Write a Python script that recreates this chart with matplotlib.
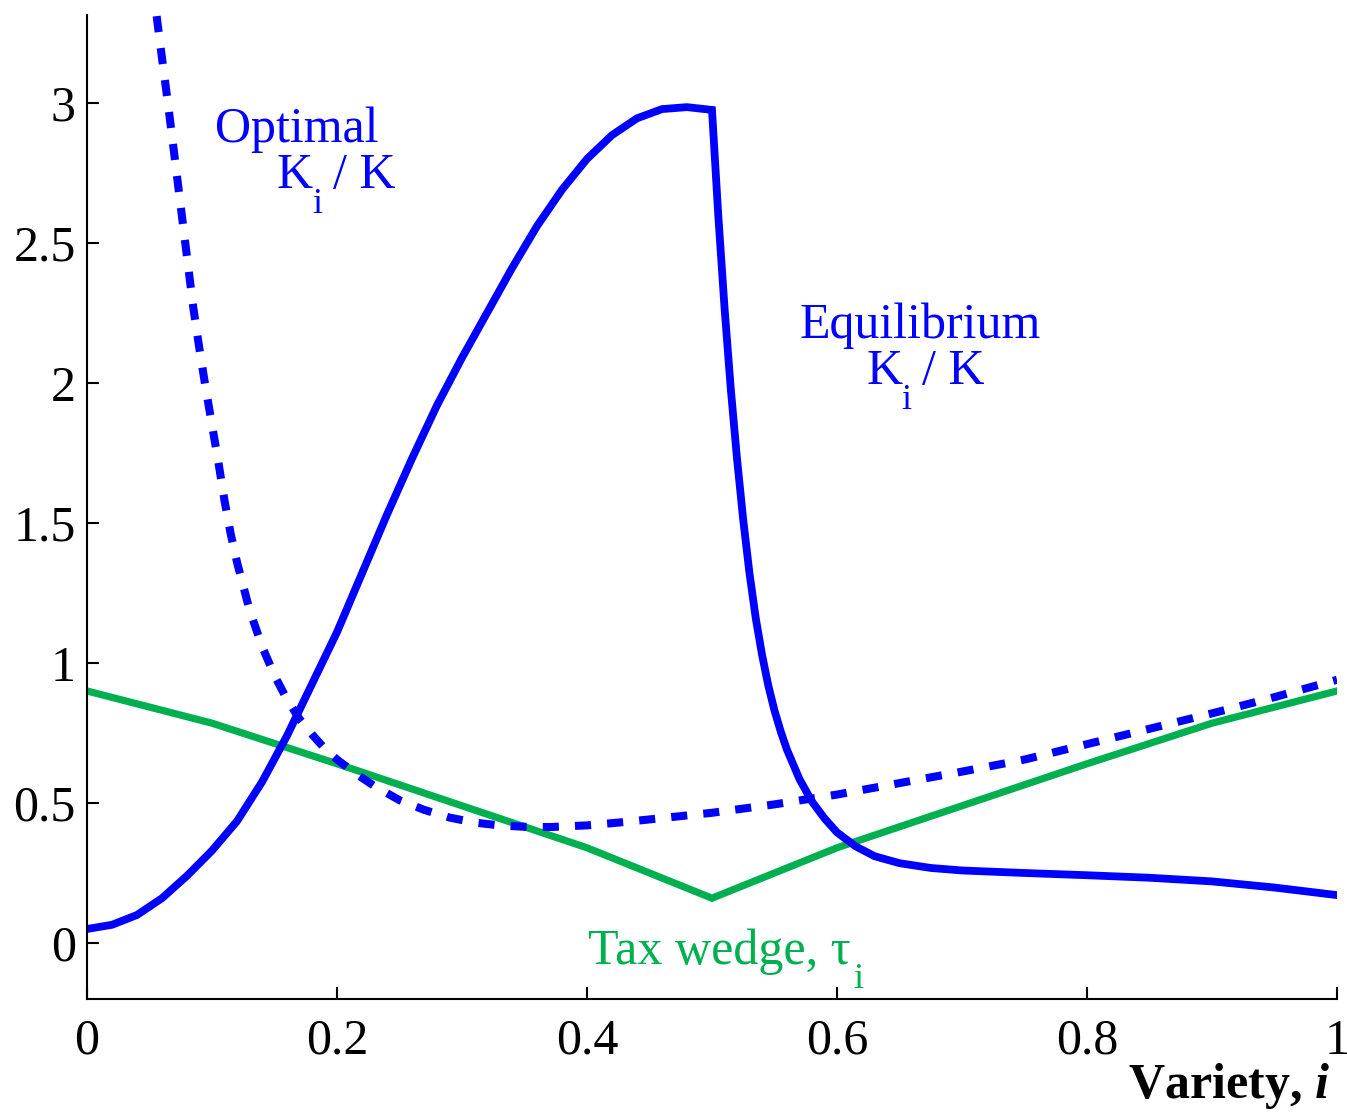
import numpy as np
import matplotlib
matplotlib.use("Agg")
import matplotlib.pyplot as plt
from matplotlib.ticker import FormatStrFormatter

plt.rcParams['font.family'] = ['Liberation Serif', 'DejaVu Serif']
plt.rcParams['mathtext.fontset'] = 'custom'
plt.rcParams['mathtext.rm'] = 'Liberation Serif'
plt.rcParams['mathtext.it'] = 'Liberation Serif:style=italic:weight=bold'
plt.rcParams['mathtext.bf'] = 'Liberation Serif:weight=bold'

# Equilibrium K_i / K (solid blue)
eq_x = [0.00, 0.02, 0.04, 0.06, 0.08, 0.10, 0.12, 0.14, 0.16, 0.18, 0.20,
        0.22, 0.24, 0.26, 0.28, 0.30, 0.32, 0.34, 0.36, 0.38, 0.40, 0.42,
        0.44, 0.46, 0.48, 0.50, 0.505, 0.510, 0.515, 0.520, 0.525, 0.530,
        0.535, 0.540, 0.545, 0.550, 0.555, 0.560, 0.570, 0.580, 0.590, 0.600,
        0.615, 0.630, 0.650, 0.675, 0.700, 0.750, 0.800, 0.850, 0.900, 0.950,
        1.000]
eq_y = [0.050, 0.065, 0.100, 0.160, 0.240, 0.330, 0.435, 0.575, 0.740, 0.925,
        1.110, 1.320, 1.530, 1.730, 1.920, 2.090, 2.250, 2.410, 2.560, 2.690,
        2.800, 2.885, 2.945, 2.978, 2.985, 2.975, 2.60, 2.27, 1.98, 1.73,
        1.51, 1.32, 1.16, 1.03, 0.92, 0.83, 0.755, 0.69, 0.585, 0.505, 0.445,
        0.395, 0.345, 0.310, 0.285, 0.268, 0.259, 0.250, 0.242, 0.233, 0.220,
        0.198, 0.171]

# Optimal K_i / K (dashed blue)
opt_x = [0.0557, 0.060, 0.065, 0.070, 0.075, 0.080, 0.085, 0.090, 0.095,
         0.100, 0.105, 0.110, 0.115, 0.120, 0.130, 0.140, 0.150, 0.160,
         0.170, 0.180, 0.190, 0.200, 0.215, 0.230, 0.250, 0.270, 0.290,
         0.310, 0.330, 0.350, 0.370, 0.400, 0.430, 0.460, 0.500, 0.550,
         0.600, 0.650, 0.700, 0.750, 0.800, 0.850, 0.900, 0.950, 1.000]
opt_y = [3.31, 3.16, 2.99, 2.81, 2.63, 2.45, 2.27, 2.12, 1.98,
         1.85, 1.72, 1.58, 1.46, 1.36, 1.19, 1.06, 0.955, 0.87,
         0.80, 0.745, 0.695, 0.655, 0.605, 0.56, 0.51, 0.475, 0.448,
         0.430, 0.420, 0.415, 0.414, 0.420, 0.432, 0.446, 0.465, 0.495,
         0.53, 0.571, 0.612, 0.655, 0.71, 0.765, 0.82, 0.878, 0.94]

# Tax wedge tau_i (green)
tax_x = [0.0, 0.1, 0.2, 0.3, 0.4, 0.5, 0.6, 0.7, 0.8, 0.9, 1.0]
tax_y = [0.9, 0.785, 0.64, 0.49, 0.34, 0.16, 0.34, 0.49, 0.64, 0.785, 0.9]

blue = '#0000FF'
green = '#00B050'

fig = plt.figure(figsize=(13.47, 11.14), dpi=100)
ax = fig.add_axes([87 / 1347, 115 / 1114, 1250 / 1347, 984 / 1114])

ax.plot(tax_x, tax_y, color=green, lw=5.2, solid_joinstyle='miter')
ax.plot(opt_x, opt_y, color=blue, lw=5.8, dashes=(2.0, 2.0))
ax.plot(eq_x, eq_y, color=blue, lw=5.6, solid_joinstyle='miter')

ax.set_xlim(0, 1)
ax.set_ylim(-0.2, 3.314)
ax.set_xticks(np.arange(0, 1.01, 0.2))
ax.set_yticks(np.arange(0, 3.01, 0.5))
ax.xaxis.set_major_formatter(FormatStrFormatter('%g'))
ax.yaxis.set_major_formatter(FormatStrFormatter('%g'))

for s in ['top', 'right']:
    ax.spines[s].set_visible(False)
for s in ['left', 'bottom']:
    ax.spines[s].set_linewidth(1.5)
ax.tick_params(direction='in', length=8.6, width=1.5, labelsize=36)
ax.tick_params(axis='x', pad=14)
ax.tick_params(axis='y', pad=8)

fs = 36
sub = 26
# Optimal label
ax.text(0.1024, 2.861, 'Optimal', color=blue, fontsize=fs)
ax.text(0.152, 2.696, 'K', color=blue, fontsize=fs)
ax.text(0.1805, 2.607, 'i', color=blue, fontsize=sub)
ax.text(0.1968, 2.696, '/ K', color=blue, fontsize=fs)

# Equilibrium label
ax.text(0.5704, 2.161, 'Equilibrium', color=blue, fontsize=fs)
ax.text(0.624, 1.996, 'K', color=blue, fontsize=fs)
ax.text(0.651, 1.907, 'i', color=blue, fontsize=sub)
ax.text(0.668, 1.996, '/ K', color=blue, fontsize=fs)

# Tax wedge label
ax.text(0.4008, -0.075, 'Tax wedge, \u03c4', color=green, fontsize=fs)
ax.text(0.613, -0.161, 'i', color=green, fontsize=sub)

ax.set_xlabel('Variety, $\\mathit{i}$', fontsize=fs, fontweight='bold')
ax.xaxis.set_label_coords(0.9944, -0.1006)
ax.xaxis.label.set_ha('right')
ax.xaxis.label.set_va('baseline')

fig.savefig('out.png', dpi=100)
